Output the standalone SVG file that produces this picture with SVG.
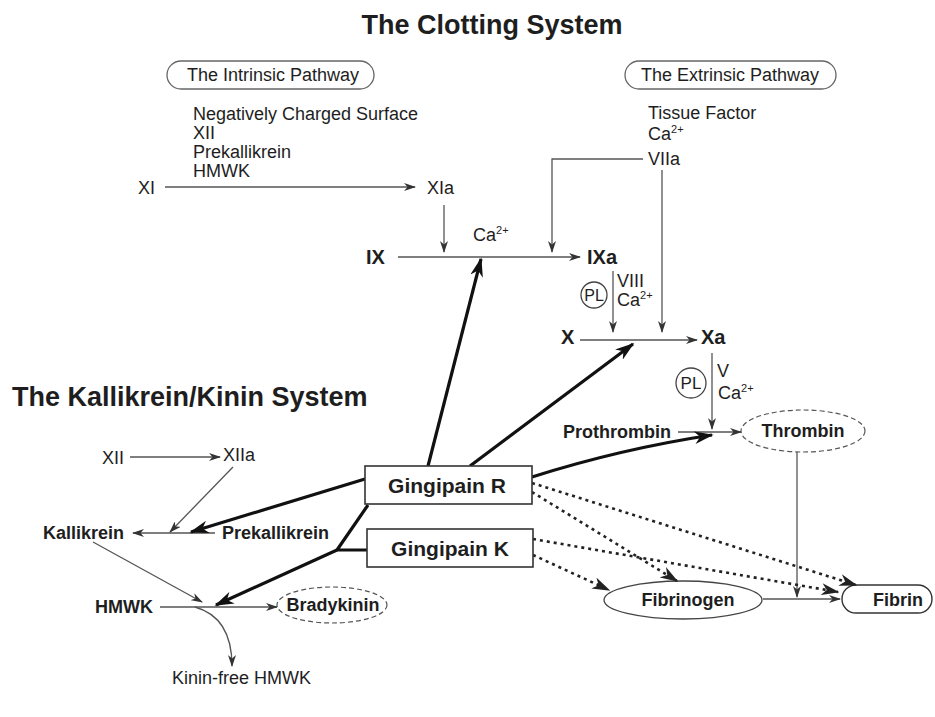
<svg xmlns="http://www.w3.org/2000/svg" width="935" height="717" viewBox="0 0 935 717">
<style>
text{font-family:"Liberation Sans",Arial,sans-serif;fill:#1e1e1e}
.t{font-size:18px}
.b{font-size:18px;font-weight:bold}
.big{font-size:20px;font-weight:bold}
.title{font-size:27px;font-weight:bold}
.g{font-size:21px;font-weight:bold}
.sup{font-size:11px}
.thin{fill:none;stroke:#555;stroke-width:1.3}
.thick{fill:none;stroke:#111;stroke-width:3.2}
.dot{fill:none;stroke:#222;stroke-width:2.6;stroke-dasharray:3 4}
.pill{fill:none;stroke:#666;stroke-width:1.3}
.box{fill:#fff;stroke:#333;stroke-width:1.6}
.dash{fill:none;stroke:#555;stroke-width:1.2;stroke-dasharray:5 3}
</style>
<defs>
<marker id="a" viewBox="0 0 12 8" refX="11" refY="4" markerWidth="12" markerHeight="8" markerUnits="userSpaceOnUse" orient="auto">
<path d="M0,0 L12,4 L0,8 L3.5,4 z" fill="#333"/>
</marker>
<marker id="ab" viewBox="0 0 12 8" refX="11" refY="4" markerWidth="6" markerHeight="4" orient="auto">
<path d="M0,0 L12,4 L0,8 L3.5,4 z" fill="#111"/>
</marker>
<marker id="ad" viewBox="0 0 12 8" refX="11" refY="4" markerWidth="7" markerHeight="4.7" orient="auto">
<path d="M0,0 L12,4 L0,8 L3.5,4 z" fill="#222"/>
</marker>
</defs>
<rect width="935" height="717" fill="#fff"/>

<text class="title" x="492" y="34" text-anchor="middle">The Clotting System</text>
<text class="title" x="12" y="406">The Kallikrein/Kinin System</text>

<g id="intrinsic">
<rect class="pill" x="167" y="61" width="207" height="28" rx="14"/>
<text class="t" x="273" y="81" text-anchor="middle">The Intrinsic Pathway</text>
</g>
<g id="intrinsic-factors">
<text class="t" x="193" y="120">Negatively Charged Surface</text>
<text class="t" x="193" y="139">XII</text>
<text class="t" x="193" y="158">Prekallikrein</text>
<text class="t" x="193" y="177">HMWK</text>
</g>
<g id="extrinsic">
<rect class="pill" x="625" y="61" width="211" height="28" rx="14"/>
<text class="t" x="730" y="81" text-anchor="middle">The Extrinsic Pathway</text>
</g>
<g id="extrinsic-factors">
<text class="t" x="648" y="119">Tissue Factor</text>
<text class="t" x="648" y="140">Ca<tspan class="sup" dy="-7">2+</tspan></text>
<text class="t" x="648" y="165">VIIa</text>
</g>

<g id="XI"><text class="t" x="138" y="194">XI</text></g>
<g id="XIa"><text class="t" x="427" y="194">XIa</text></g>
<g id="IX"><text class="big" x="366" y="264">IX</text></g>
<g id="IXa"><text class="big" x="587" y="264">IXa</text></g>
<g id="ca1"><text class="t" x="473" y="241">Ca<tspan class="sup" dy="-7">2+</tspan></text></g>
<g id="PL1">
<circle cx="594" cy="295" r="13" fill="none" stroke="#444" stroke-width="1.3"/>
<text x="594" y="301" text-anchor="middle" style="font-size:16px">PL</text>
</g>
<g id="VIII-ca">
<text class="t" x="617" y="287">VIII</text>
<text class="t" x="617" y="306">Ca<tspan class="sup" dy="-7">2+</tspan></text>
</g>
<g id="X"><text class="big" x="561" y="344">X</text></g>
<g id="Xa"><text class="big" x="701" y="344">Xa</text></g>
<g id="PL2">
<circle cx="691" cy="383" r="15" fill="none" stroke="#444" stroke-width="1.3"/>
<text x="691" y="389" text-anchor="middle" style="font-size:17px">PL</text>
</g>
<g id="V-ca">
<text class="t" x="717" y="377">V</text>
<text class="t" x="718" y="399">Ca<tspan class="sup" dy="-7">2+</tspan></text>
</g>
<g id="prothrombin"><text class="b" x="563" y="438">Prothrombin</text></g>
<g id="thrombin">
<ellipse class="dash" cx="803" cy="431" rx="62" ry="21"/>
<text class="b" x="803" y="437" text-anchor="middle">Thrombin</text>
</g>
<g id="fibrinogen">
<ellipse cx="683" cy="600" rx="79" ry="19" fill="none" stroke="#444" stroke-width="1.3"/>
<text class="b" x="688" y="606" text-anchor="middle">Fibrinogen</text>
</g>
<g id="fibrin">
<rect x="842" y="585" width="90" height="28" rx="14" fill="none" stroke="#333" stroke-width="1.4"/>
<text class="b" x="898" y="606" text-anchor="middle">Fibrin</text>
</g>

<g id="XII"><text class="t" x="102" y="464">XII</text></g>
<g id="XIIa"><text class="t" x="223" y="461">XIIa</text></g>
<g id="kallikrein"><text class="b" x="43" y="539">Kallikrein</text></g>
<g id="prekallikrein"><text class="b" x="222" y="539">Prekallikrein</text></g>
<g id="HMWK"><text class="b" x="95" y="613">HMWK</text></g>
<g id="bradykinin">
<ellipse class="dash" cx="332" cy="605" rx="55" ry="18"/>
<text class="b" x="333" y="611" text-anchor="middle">Bradykinin</text>
</g>
<g id="kinin-free"><text class="t" x="172" y="684">Kinin-free HMWK</text></g>

<g id="connectors">
<path class="thin" d="M165,187 H415" marker-end="url(#a)"/>
<path class="thin" d="M444,205 V252" marker-end="url(#a)"/>
<path class="thin" d="M398,257 H580" marker-end="url(#a)"/>
<path class="thin" d="M643,159 H552 V252" marker-end="url(#a)"/>
<path class="thin" d="M662,170 V332" marker-end="url(#a)"/>
<path class="thin" d="M613,271 V332" marker-end="url(#a)"/>
<path class="thin" d="M580,340 H697" marker-end="url(#a)"/>
<path class="thin" d="M712,353 V429" marker-end="url(#a)"/>
<path class="thin" d="M678,432 H741" marker-end="url(#a)"/>
<path class="thin" d="M797,452 V597" marker-end="url(#a)"/>
<path class="thin" d="M763,599 H840" marker-end="url(#a)"/>
<path class="thin" d="M130,457 H220" marker-end="url(#a)"/>
<path class="thin" d="M233,467 L170,532" marker-end="url(#a)"/>
<path class="thin" d="M215,533 H133" marker-end="url(#a)"/>
<path class="thin" d="M93,542 L202,602" marker-end="url(#a)"/>
<path class="thin" d="M160,607 H277" marker-end="url(#a)"/>
<path class="thin" d="M195,607 C220,614 232,635 232,666" marker-end="url(#a)"/>

<path class="thick" d="M428,466 L481,259" marker-end="url(#ab)"/>
<path class="thick" d="M470,466 L633,344" marker-end="url(#ab)"/>
<path class="thick" d="M532,477 Q620,449 712,435" marker-end="url(#ab)"/>
<path class="thick" d="M365,479 L191,532" marker-end="url(#ab)"/>
<path class="thick" d="M368,505 L337,550 H367"/>
<path class="thick" d="M337,550 L216,605" marker-end="url(#ab)"/>

<path class="dot" d="M532,483 L856,585" marker-end="url(#ad)"/>
<path class="dot" d="M532,492 L677,581" marker-end="url(#ad)"/>
<path class="dot" d="M533,539 L838,592" marker-end="url(#ad)"/>
<path class="dot" d="M533,555 L609,590" marker-end="url(#ad)"/>
</g>

<g id="gingipainR">
<rect class="box" x="365" y="466" width="167" height="38"/>
<text class="g" x="447" y="493" text-anchor="middle">Gingipain R</text>
</g>
<g id="gingipainK">
<rect class="box" x="367" y="529" width="166" height="38"/>
<text class="g" x="450" y="556" text-anchor="middle">Gingipain K</text>
</g>
</svg>
